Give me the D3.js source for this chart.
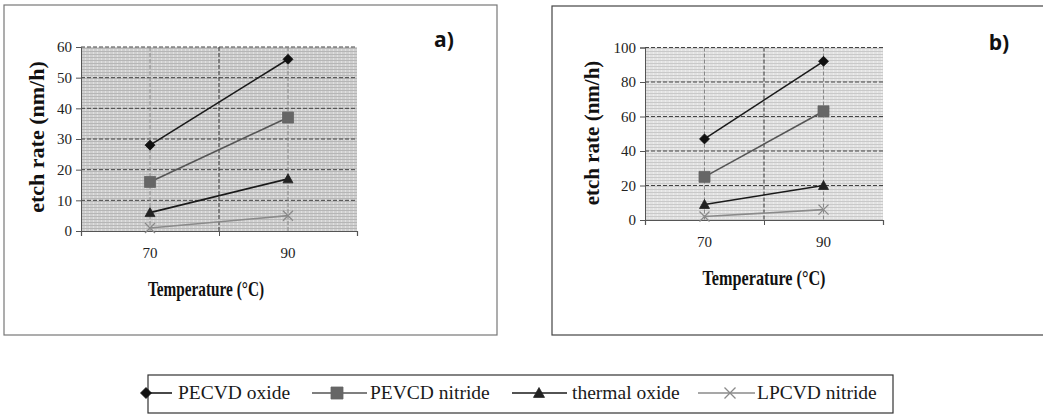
<!DOCTYPE html>
<html>
<head>
<meta charset="utf-8">
<script src="https://cdn.jsdelivr.net/npm/d3@7"></script>
<style>
  html, body { margin: 0; padding: 0; background: #fff; }
  svg { display: block; }
  .serif { font-family: 'Liberation Serif', 'Times New Roman', serif !important; }
  .sansb { font-family: 'Open Sans', 'DejaVu Sans', sans-serif; font-weight: bold; }
</style>
</head>
<body>
<svg id="chart" width="1043" height="415"></svg>
<script>
// ---- data ----
const temperatures = [70, 90];
const seriesNames = ["PECVD oxide", "PEVCD nitride", "thermal oxide", "LPCVD nitride"];
const panelA_pecvdOxide   = [28, 56];
const panelA_pevcdNitride = [16, 37];
const panelA_thermalOxide = [6, 17];
const panelA_lpcvdNitride = [1, 5];
const panelB_pecvdOxide   = [47, 92];
const panelB_pevcdNitride = [25, 63];
const panelB_thermalOxide = [9, 20];
const panelB_lpcvdNitride = [2, 6];
const yTicksA = [0, 10, 20, 30, 40, 50, 60];
const yTicksB = [0, 20, 40, 60, 80, 100];
const xTickLabels = [70, 90];
const xDomain = [60, 100];
const panelLabels = ["a)", "b)"];
const yTitle = "etch rate (nm/h)";
const xTitle = "Temperature (°C)";

// ---- styles ----
const seriesStyle = [
  { color: "#1a1a1a", marker: "diamond", mfill: "#111" },
  { color: "#555555", marker: "square",  mfill: "#666" },
  { color: "#1a1a1a", marker: "triangle", mfill: "#222" },
  { color: "#8a8a8a", marker: "cross",   mfill: "#8a8a8a" }
];

const svg = d3.select("#chart");
const defs = svg.append("defs");

function makePattern(id, base, lineCol, op) {
  const p = defs.append("pattern").attr("id", id).attr("patternUnits", "userSpaceOnUse")
    .attr("width", 4).attr("height", 3);
  p.append("rect").attr("width", 4).attr("height", 3).attr("fill", base);
  p.append("rect").attr("x", 0).attr("y", 0).attr("width", 4).attr("height", 1).attr("fill", lineCol).attr("opacity", op);
  p.append("rect").attr("x", 1).attr("y", 1).attr("width", 1).attr("height", 2).attr("fill", "#fff").attr("opacity", 0.35);
}
makePattern("texA", "#cfcfcf", "#b0b0b0", 0.8);
makePattern("texB", "#e2e2e2", "#c0c0c0", 0.7);

function markerPath(type, size) {
  const s = size / 2;
  if (type === "diamond") return `M0,${-s}L${s},0L0,${s}L${-s},0Z`;
  if (type === "square") return `M${-s},${-s}H${s}V${s}H${-s}Z`;
  if (type === "triangle") return `M0,${-s}L${s},${s*0.8}H${-s}Z`;
  return `M${-s},${-s}L${s},${s}M${s},${-s}L${-s},${s}`;
}

function drawMarker(g, type, x, y, st, size) {
  const p = g.append("path").attr("transform", `translate(${x},${y})`).attr("d", markerPath(type, size));
  if (type === "cross") p.attr("fill", "none").attr("stroke", st.mfill).attr("stroke-width", 1.3);
  else p.attr("fill", st.mfill).attr("stroke", st.mfill).attr("stroke-width", 0.8);
}

function drawPanel(cfg) {
  const g = svg.append("g");
  g.append("rect").attr("x", cfg.frame[0]).attr("y", cfg.frame[1])
    .attr("width", cfg.frame[2]).attr("height", cfg.frame[3])
    .attr("fill", "#fff").attr("stroke", cfg.frameColor).attr("stroke-width", 1.2);

  const x = d3.scaleLinear().domain(xDomain).range(cfg.xr);
  const y = d3.scaleLinear().domain([0, cfg.ymax]).range(cfg.yr);

  g.append("rect").attr("x", cfg.xr[0]).attr("y", cfg.yr[1])
    .attr("width", cfg.xr[1] - cfg.xr[0]).attr("height", cfg.yr[0] - cfg.yr[1])
    .attr("fill", `url(#${cfg.tex})`);

  g.selectAll(".hg").data(cfg.yTicks.filter(d => d > 0)).join("line")
    .attr("x1", cfg.xr[0]).attr("x2", cfg.xr[1])
    .attr("y1", d => y(d)).attr("y2", d => y(d))
    .attr("stroke", "#444").attr("stroke-width", 1).attr("stroke-dasharray", "4,2");
  g.selectAll(".vg").data([70, 80, 90]).join("line")
    .attr("x1", d => x(d)).attr("x2", d => x(d))
    .attr("y1", cfg.yr[1]).attr("y2", cfg.yr[0])
    .attr("stroke", d => d === 80 ? "#333" : "#888").attr("stroke-width", 1)
    .attr("stroke-dasharray", "4,2");

  const yAxis = d3.axisLeft(y).tickValues(cfg.yTicks).tickSize(5).tickPadding(4);
  const ya = g.append("g").attr("transform", `translate(${cfg.xr[0]},0)`).call(yAxis);
  ya.attr("font-family", null).attr("font-size", null);
  ya.select(".domain").attr("stroke", "#555");
  ya.selectAll(".tick line").attr("stroke", "#555");
  ya.selectAll("text").attr("class", "serif").style("font-size", "15px").attr("fill", "#222");

  const xAxis = d3.axisBottom(x).tickValues([60, 80, 100]).tickSize(5).tickFormat("");
  const xa = g.append("g").attr("transform", `translate(0,${cfg.yr[0]})`).call(xAxis);
  xa.select(".domain").attr("stroke", "#555").attr("stroke-width", 1.2);
  xa.selectAll(".tick line").attr("stroke", "#555");
  g.selectAll(".xl").data(xTickLabels).join("text")
    .attr("class", "serif")
    .attr("x", d => x(d)).attr("y", cfg.yr[0] + cfg.xLabelOff)
    .attr("text-anchor", "middle").style("font-size", "15px").attr("fill", "#222").text(d => d);

  cfg.series.forEach((vals, i) => {
    const st = seriesStyle[i];
    const pts = temperatures.map((t, j) => [x(t), y(vals[j])]);
    g.append("path").attr("d", d3.line()(pts)).attr("fill", "none")
      .attr("stroke", st.color).attr("stroke-width", 1.6);
    pts.forEach(p => drawMarker(g, st.marker, p[0], p[1], st, i === 1 ? 11 : 10));
  });

  g.append("text").attr("class", "serif")
    .attr("transform", `translate(${cfg.yTitlePos[0]},${cfg.yTitlePos[1]}) rotate(-90)`)
    .attr("text-anchor", "middle").attr("dominant-baseline", "central")
    .style("font-weight", "bold").style("font-size", cfg.yTitleSize + "px").attr("fill", "#111").text(yTitle);
  g.append("text").attr("class", "serif").attr("x", cfg.xTitlePos[0]).attr("y", cfg.xTitlePos[1])
    .attr("text-anchor", "middle").style("font-weight", "bold").style("font-size", "21px").attr("fill", "#111")
    .attr("textLength", cfg.xTitleLen).attr("lengthAdjust", "spacingAndGlyphs").text(xTitle);
  g.append("text").attr("class", "sansb").attr("x", cfg.labelPos[0]).attr("y", cfg.labelPos[1])
    .attr("text-anchor", "middle").style("font-size", "21px").attr("fill", "#111").text(cfg.label);
}

drawPanel({
  frame: [4, 5, 493, 330], frameColor: "#777",
  xr: [81, 357], yr: [231, 47], ymax: 60, yTicks: yTicksA, tex: "texA",
  series: [panelA_pecvdOxide, panelA_pevcdNitride, panelA_thermalOxide, panelA_lpcvdNitride],
  xLabelOff: 27, yTitlePos: [36, 137], yTitleSize: 22,
  xTitlePos: [206, 296], xTitleLen: 116, labelPos: [444, 47], label: panelLabels[0]
});
drawPanel({
  frame: [552, 6, 500, 329], frameColor: "#444",
  xr: [645, 883], yr: [220, 47.5], ymax: 100, yTicks: yTicksB, tex: "texB",
  series: [panelB_pecvdOxide, panelB_pevcdNitride, panelB_thermalOxide, panelB_lpcvdNitride],
  xLabelOff: 27, yTitlePos: [592, 133], yTitleSize: 21,
  xTitlePos: [764, 285], xTitleLen: 123, labelPos: [999, 50], label: panelLabels[1]
});

// ---- legend ----
const lg = svg.append("g");
lg.append("rect").attr("x", 148).attr("y", 375).attr("width", 745).attr("height", 38)
  .attr("fill", "#fff").attr("stroke", "#333").attr("stroke-width", 1.2);
const legendItems = [
  { lx1: 145, lx2: 172, mx: 146, tx: 178 },
  { lx1: 312, lx2: 367, mx: 337, tx: 370 },
  { lx1: 512, lx2: 567, mx: 539, tx: 572 },
  { lx1: 698, lx2: 755, mx: 730, tx: 757 }
];
seriesNames.forEach((name, i) => {
  const it = legendItems[i], st = seriesStyle[i], ly = 393;
  lg.append("line").attr("x1", it.lx1).attr("x2", it.lx2).attr("y1", ly).attr("y2", ly)
    .attr("stroke", st.color).attr("stroke-width", 1.6);
  drawMarker(lg, st.marker, it.mx, ly, st, i === 1 ? 12 : 11);
  lg.append("text").attr("class", "serif").attr("x", it.tx).attr("y", ly + 6)
    .style("font-size", "19.5px").attr("fill", "#1a1a1a").text(name);
});
</script>
</body>
</html>
